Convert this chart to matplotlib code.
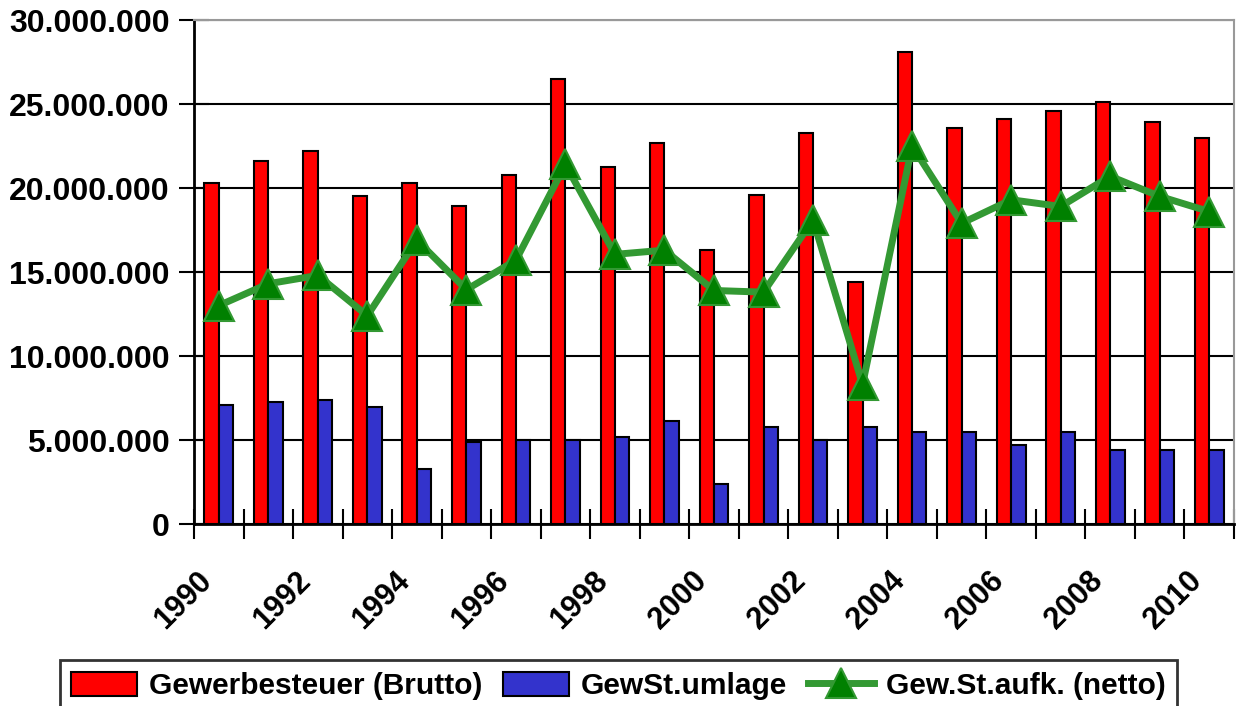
import numpy as np
import matplotlib
matplotlib.use("Agg")
from matplotlib import pyplot as plt
from matplotlib.ticker import FuncFormatter, MultipleLocator

# data (values in EUR)
years = list(range(1990, 2011))
brutto = [20.3, 21.6, 22.2, 19.5, 20.3, 18.9, 20.8, 26.5, 21.25, 22.7, 16.3,
          19.6, 23.3, 14.4, 28.1, 23.6, 24.1, 24.6, 25.1, 23.95, 23.0]
umlage = [7.1, 7.25, 7.4, 6.95, 3.3, 4.9, 5.0, 5.0, 5.15, 6.15, 2.4,
          5.8, 5.0, 5.8, 5.5, 5.5, 4.7, 5.5, 4.4, 4.4, 4.4]
netto = [13.0, 14.3, 14.8, 12.4, 16.9, 13.95, 15.7, 21.4, 16.05, 16.3, 13.9,
         13.8, 18.1, 8.3, 22.5, 17.9, 19.3, 18.9, 20.7, 19.5, 18.6]
labels = ["Gewerbesteuer (Brutto)", "GewSt.umlage", "Gew.St.aufk. (netto)"]

brutto = np.array(brutto) * 1e6
umlage = np.array(umlage) * 1e6
netto = np.array(netto) * 1e6
x = np.arange(len(years))

plt.rcParams['font.family'] = ['Liberation Sans', 'DejaVu Sans']
plt.rcParams['font.weight'] = 'bold'

fig = plt.figure(figsize=(12.37, 7.06), dpi=100)
ax = fig.add_axes([194 / 1237, 182 / 706, 1040 / 1237, 504 / 706])

w = 0.29
b1 = ax.bar(x - w / 2, brutto, w, color='#FF0000', edgecolor='black', linewidth=1.5,
            label=labels[0], zorder=2)
b2 = ax.bar(x + w / 2, umlage, w, color='#3333CC', edgecolor='black', linewidth=1.5,
            label=labels[1], zorder=2)
ln, = ax.plot(x, netto, color='#339933', linewidth=5, marker='^', markersize=21,
              markerfacecolor='#008000', markeredgecolor='#339933', markeredgewidth=1.5,
              label=labels[2], zorder=3)

ax.set_xlim(-0.5, len(years) - 0.5)
ax.set_ylim(0, 30e6)
ax.yaxis.set_major_locator(MultipleLocator(5e6))
ax.yaxis.set_major_formatter(FuncFormatter(lambda v, p: f"{int(v):,}".replace(",", ".")))
ax.grid(axis='y', color='black', linewidth=1.5, zorder=0)
ax.set_axisbelow(True)

# major ticks between categories, year labels on every second category
ax.set_xticks(np.arange(-0.5, len(years), 1.0))
ax.set_xticklabels([])
ax.set_xticks(x[::2] - 0.45, minor=True)
ax.set_xticklabels([str(y) for y in years[::2]], minor=True, rotation=45,
                   ha='right', va='top', rotation_mode='anchor', fontsize=22)
ax.tick_params(axis='x', which='major', direction='inout', length=21, width=1.5)
ax.tick_params(axis='x', which='minor', length=0, pad=30)
ax.tick_params(axis='y', direction='inout', length=21, width=1.5, labelsize=23, pad=7)

for s in ['left', 'bottom']:
    ax.spines[s].set_linewidth(2)
    ax.spines[s].set_color('black')
for s in ['top', 'right']:
    ax.spines[s].set_linewidth(1.5)
    ax.spines[s].set_color('#999999')

leg = fig.legend(handles=[b1, b2, ln], labels=labels, loc='upper center',
                 bbox_to_anchor=(0.5, 1 - 660 / 706), ncol=3, fontsize=21.5,
                 frameon=True, fancybox=False, edgecolor='black', handlelength=2.2,
                 handleheight=0.85, handletextpad=0.4, columnspacing=0.7,
                 borderpad=0.4, borderaxespad=0)
leg.get_frame().set_linewidth(2)

plt.savefig('out.png', dpi=100)
